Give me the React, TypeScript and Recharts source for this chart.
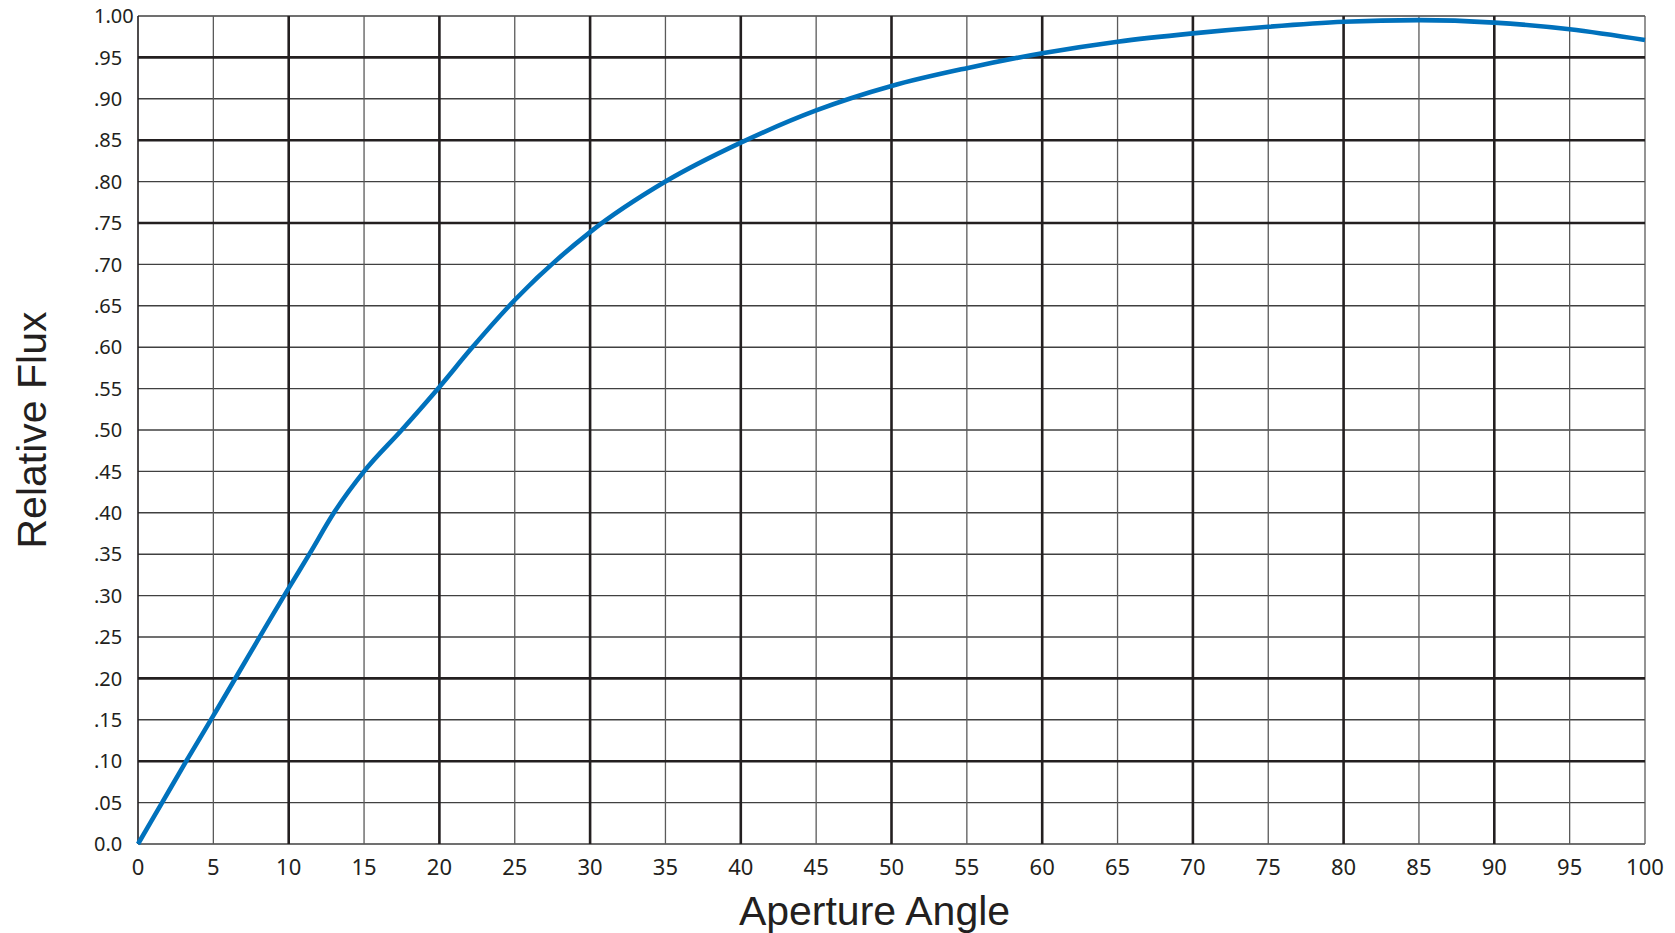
import { Label, Line, LineChart, ReferenceLine, XAxis, YAxis } from "recharts";

const angles = [0, 1.6, 3.2, 5, 10, 11.4, 13, 15, 17.5, 20, 22.1, 25, 30, 35, 40, 45, 50, 55, 60, 65, 70, 75, 80, 85, 90, 95, 100];
const flux = [0, 0.05, 0.1, 0.155, 0.309, 0.351, 0.4, 0.45, 0.5, 0.552, 0.598, 0.657, 0.739, 0.8, 0.847, 0.886, 0.9155, 0.937, 0.955, 0.969, 0.979, 0.987, 0.993, 0.995, 0.992, 0.984, 0.971];

const xTicks = [0, 5, 10, 15, 20, 25, 30, 35, 40, 45, 50, 55, 60, 65, 70, 75, 80, 85, 90, 95, 100];
const xMajor = [10, 20, 30, 40, 50, 60, 70, 80, 90];

const yTicks = [0, 0.05, 0.1, 0.15, 0.2, 0.25, 0.3, 0.35, 0.4, 0.45, 0.5, 0.55, 0.6, 0.65, 0.7, 0.75, 0.8, 0.85, 0.9, 0.95, 1];
const yTickLabels = ["0.0", ".05", ".10", ".15", ".20", ".25", ".30", ".35", ".40", ".45", ".50", ".55", ".60", ".65", ".70", ".75", ".80", ".85", ".90", ".95", "1.00"];
const yMajor = [0.1, 0.2, 0.75, 0.85, 0.95];

const data = angles.map((a, i) => ({ angle: a, flux: flux[i] }));

const INK = "#231f20";
const TICK_FONT = "'Noto Sans', sans-serif";
const TITLE_FONT = "'Liberation Sans', Arial, sans-serif";

const XTick = ({ x, y, payload }: any) => (
  <text x={x} y={y} dy="0.71em" textAnchor="middle" fill={INK} fontSize={22} fontFamily={TICK_FONT}>
    {payload.value}
  </text>
);

const YTick = ({ y, payload }: any) => (
  <text x={94} y={y} dy="0.36em" textAnchor="start" fill={INK} fontSize={20} fontFamily={TICK_FONT}>
    {yTickLabels[yTicks.indexOf(payload.value)]}
  </text>
);

const XTitle = ({ viewBox }: any) => (
  <text
    x={viewBox.x + viewBox.width / 2 - 17}
    y={viewBox.y + 81}
    textAnchor="middle"
    fill={INK}
    fontSize={41}
    fontFamily={TITLE_FONT}
  >
    Aperture Angle
  </text>
);

const YTitle = ({ viewBox }: any) => {
  const cx = 31;
  const cy = viewBox.y + viewBox.height / 2;
  return (
    <text
      x={cx}
      y={cy}
      dy="0.36em"
      transform={`rotate(-90 ${cx} ${cy})`}
      textAnchor="middle"
      fill={INK}
      fontSize={41}
      fontFamily={TITLE_FONT}
    >
      Relative Flux
    </text>
  );
};

const App = () => (
  <div style={{ position: "absolute", left: 0, top: 0, background: "#fff" }}>
    <LineChart width={1675} height={933} data={data} margin={{ top: 16, right: 30, bottom: 0, left: 0 }}>
      <XAxis
        dataKey="angle"
        type="number"
        domain={[0, 100]}
        ticks={xTicks}
        interval={0}
        axisLine={false}
        tickLine={false}
        tickSize={0}
        tickMargin={15}
        height={89}
        tick={<XTick />}
      >
        <Label content={<XTitle />} />
      </XAxis>
      <YAxis
        type="number"
        domain={[0, 1]}
        ticks={yTicks}
        interval={0}
        axisLine={false}
        tickLine={false}
        width={138}
        tick={<YTick />}
      >
        <Label content={<YTitle />} />
      </YAxis>

      {yTicks
        .filter((v) => !yMajor.includes(v))
        .map((v) => (
          <ReferenceLine key={`hy${v}`} y={v} stroke="#404040" strokeWidth={1.4} />
        ))}
      {xTicks
        .filter((v) => !xMajor.includes(v))
        .map((v) => (
          <ReferenceLine
            key={`vx${v}`}
            x={v}
            stroke={v === 0 ? INK : "#5a5a5a"}
            strokeWidth={v === 0 ? 1.6 : 1.3}
          />
        ))}
      {yMajor.map((v) => (
        <ReferenceLine key={`HY${v}`} y={v} stroke={INK} strokeWidth={2.6} />
      ))}
      {xMajor.map((v) => (
        <ReferenceLine key={`VX${v}`} x={v} stroke={INK} strokeWidth={2.6} />
      ))}

      <Line
        type="monotone"
        dataKey="flux"
        stroke="#0071bc"
        strokeWidth={4.6}
        dot={false}
        activeDot={false}
        isAnimationActive={false}
      />
    </LineChart>
  </div>
);

export default App;
